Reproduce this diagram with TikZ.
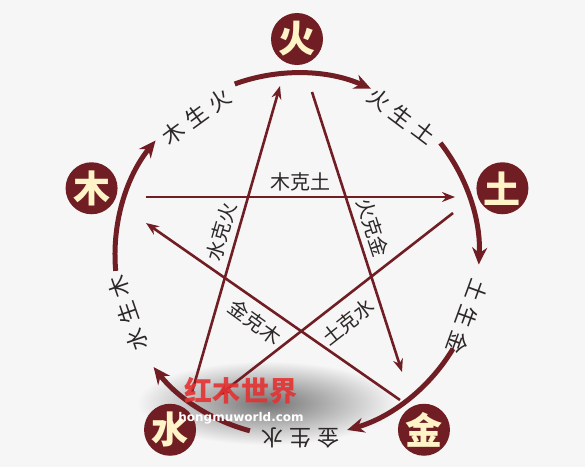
\documentclass[tikz,border=0pt]{standalone}
\usepackage{fontspec}
\newfontfamily\cjk{Noto Sans CJK SC}
\newfontfamily\wmfont{DejaVu Sans}
\usetikzlibrary{arrows.meta}
\definecolor{zaohong}{RGB}{112,30,36}
\definecolor{mihuang}{RGB}{255,243,200}
\definecolor{bgray}{RGB}{246,246,246}
\definecolor{zizi}{RGB}{45,40,40}
\definecolor{yinhong}{RGB}{228,50,50}
\tikzset{
  xing/.style={circle,fill=zaohong,minimum size=52pt,inner sep=0pt,text=mihuang,
    font=\cjk\bfseries\fontsize{37}{37}\selectfont},
  sheng/.style={line width=5pt,draw=zaohong,-{Stealth[length=17pt,width=15pt]}},
  ke/.style={line width=2.6pt,draw=zaohong,-{Stealth[length=13pt,width=10pt]}},
  shengzi/.style={text=zizi,inner sep=0pt,font=\cjk\fontsize{22}{22}\selectfont},
  kezi/.style={text=zizi,inner sep=0pt,font=\cjk\fontsize{20}{20}\selectfont},
}
\newcommand\kaizi[3]{#1\hspace{6pt}#2\hspace{6pt}#3}

\begin{document}
\begin{tikzpicture}[x=1pt,y=1pt]
  \fill[bgray] (-297,-212) rectangle (288,255);
  \useasboundingbox (-297,-212) rectangle (288,255);
  \shade[inner color=black!55,outer color=bgray] (-30,-148) ellipse (130 and 42);

  % five elements
  \node[xing] (huo) at (90:216) {火};
  \node[xing] (mu) at (162:216) {木};
  \node[xing] (tu) at (18:216) {土};
  \node[xing] (shui) at (234:216) {水};
  \node[xing] (jin) at (306:216) {金};

  % sheng cycle
  \draw[sheng] (185:182) arc[start angle=185,end angle=141,radius=182];
  \draw[sheng] (110:182) arc[start angle=110,end angle=66,radius=182];
  \draw[sheng] (38:182) arc[start angle=38,end angle=-3,radius=182];
  \draw[sheng] (-31:182) arc[start angle=-31,end angle=-74,radius=182];
  \draw[sheng] (-105:182) arc[start angle=-105,end angle=-142,radius=182];

  \node[shengzi,rotate=36] (s-mu) at (126:171) {\kaizi{木}{生}{火}};
  \node[shengzi,rotate=-37] (s-huo) at (53:174) {\kaizi{火}{生}{土}};
  \node[shengzi,rotate=-110] (s-tu) at (-20:181) {\kaizi{土}{生}{金}};
  \node[shengzi,rotate=180] (s-jin) at (-89:183) {\kaizi{金}{生}{水}};
  \node[shengzi,rotate=109] (s-shui) at (199:179) {\kaizi{水}{生}{木}};

  % ke cycle
  \coordinate (mu-a) at (-151,58);
  \coordinate (tu-b) at (158,58);
  \coordinate (huo-a) at (15,163);
  \coordinate (jin-b) at (105,-117);
  \coordinate (shui-a) at (-105,-137);
  \coordinate (huo-b) at (-17,169);
  \coordinate (tu-a) at (156,42);
  \coordinate (shui-b) at (-79,-141);
  \coordinate (jin-a) at (103,-145);
  \coordinate (mu-b) at (-151,32);
  \draw[ke] (mu-a) -- (tu-b);
  \draw[ke] (huo-a) -- (jin-b);
  \draw[ke] (shui-a) -- (huo-b);
  \draw[ke] (tu-a) -- (shui-b);
  \draw[ke] (jin-a) -- (mu-b);

  \node[kezi] (k-mu) at (3,73.5) {木克土};
  \node[kezi,rotate=-72] (k-huo) at (76,27) {火克金};
  \node[kezi,rotate=74] (k-shui) at (-76,23) {水克火};
  \node[kezi,rotate=-36] (k-jin) at (-42,-67) {金克木};
  \node[kezi,rotate=38] (k-tu) at (51,-67) {土克水};

  % watermark
  \node[text=yinhong,opacity=0.9,font=\cjk\bfseries\fontsize{28}{28}\selectfont] (wm) at (-56,-136) {红木世界};
  \node[text=white,font=\wmfont\bfseries\fontsize{12}{12}\selectfont] (wm-url) at (-56,-163) {hongmuworld.com};
\end{tikzpicture}
\end{document}
